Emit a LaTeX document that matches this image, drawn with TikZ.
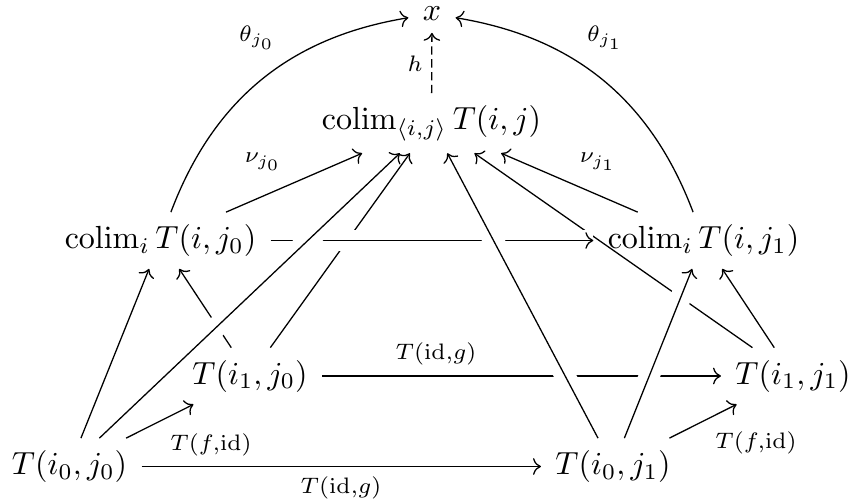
\documentclass[tikz,border=0pt]{standalone}
\usepackage{amsmath}
\usetikzlibrary{arrows.meta}
\DeclareMathOperator{\mycolim}{colim}
\begin{document}
\begin{tikzpicture}[x=0.3125pt,y=-0.3125pt,
  obj/.style={inner xsep=1ex, inner ysep=0.85ex, anchor=base},
  ar/.style={-{Computer Modern Rightarrow}},
  over/.style={preaction={draw=white, line width=1.5ex, -, shorten >=#1}},
  over/.default=0pt,
  lbl/.style={inner sep=0pt}]
\useasboundingbox (0,0) rectangle (852,502);
\node[obj, inner ysep=0pt] (X) at (432,20.5) {$x$};
\node[obj] (C) at (431.5,129.5) {$\mycolim_{\langle i,j\rangle} T(i,j)$};
\node[obj] (A0) at (160.5,248.5) {$\mycolim_i T(i,j_0)$};
\node[obj] (A1) at (703.5,248.5) {$\mycolim_i T(i,j_1)$};
\node[obj] (B10) at (250,384) {$T(i_1,j_0)$};
\node[obj] (B11) at (793,384) {$T(i_1,j_1)$};
\node[obj] (B00) at (69.5,474.5) {$T(i_0,j_0)$};
\node[obj] (B01) at (613,474.5) {$T(i_0,j_1)$};
% under lines
\draw[ar] (B10) -- (C);
\draw[ar] (B11) -- (C);
\draw[ar, over] (A0) -- (A1);
\draw[ar] (B10) -- (A0);
\draw[ar, over=13pt] (B00) -- (C);
\draw[ar] (B10) -- (B11);
\draw[ar, over=13pt] (B01) -- (C);
\draw[ar, over] (B01) -- (A1);
% remaining
\draw[ar] (B00) -- (A0);
\draw[ar] (B00) -- (B10);
\draw[ar] (B00) -- (B01);
\draw[ar] (B01) -- (B11);
\draw[ar] (B11) -- (A1);
\draw[ar] (A0) -- (C);
\draw[ar] (A1) -- (C);
\draw[ar] (A0) to[bend left=30] (X);
\draw[ar] (A1) to[bend right=30] (X);
\draw[ar, dash pattern=on 2.6pt off 1.4pt, shorten >=0.85ex] (C) -- (X);
% labels
\node[lbl] (lt0) at (257,38) {$\scriptstyle\theta_{j_0}$};
\node[lbl] (lt1) at (605,38) {$\scriptstyle\theta_{j_1}$};
\node[lbl] (lh) at (415,64) {$\scriptstyle h$};
\node[lbl] (ln0) at (263,162) {$\scriptstyle\nu_{j_0}$};
\node[lbl] (ln1) at (598,162) {$\scriptstyle\nu_{j_1}$};
\node[lbl] (lg1) at (436,354) {$\scriptstyle T(\mathrm{id},g)$};
\node[lbl] (lf0) at (211,445) {$\scriptstyle T(f,\mathrm{id})$};
\node[lbl] (lf1) at (756,443) {$\scriptstyle T(f,\mathrm{id})$};
\node[lbl] (lg0) at (341,488) {$\scriptstyle T(\mathrm{id},g)$};
\end{tikzpicture}
\end{document}
